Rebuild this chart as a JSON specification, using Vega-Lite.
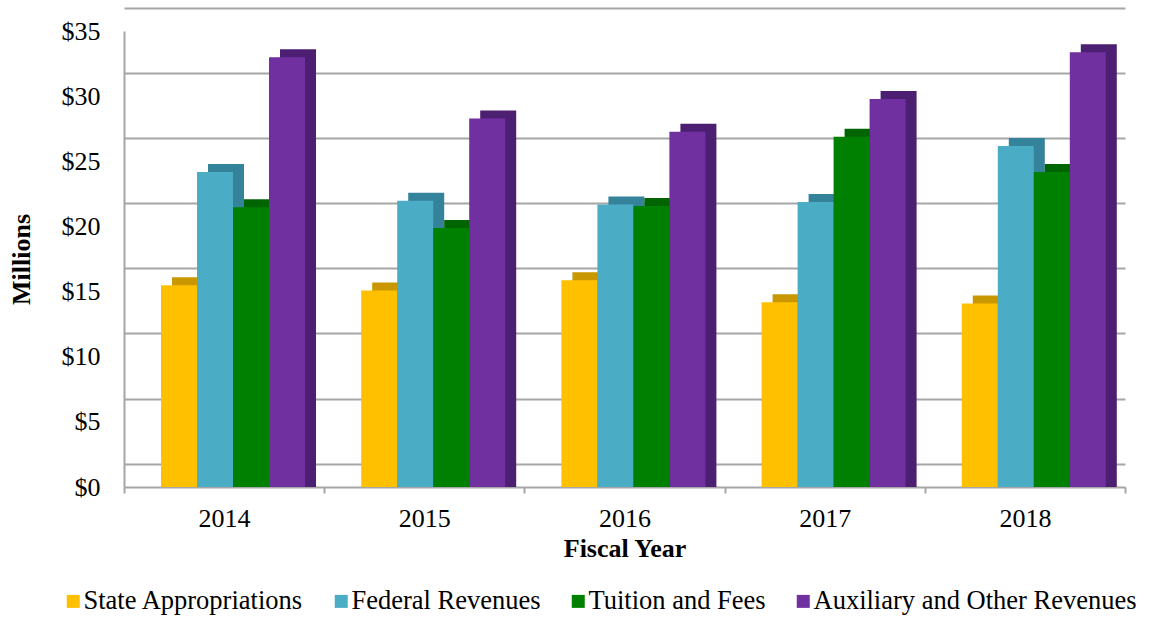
{
  "$schema": "https://vega.github.io/schema/vega-lite/v6.json",
  "width": 1001,
  "height": 456,
  "autosize": {"type": "none"},
  "padding": {"left": 124, "top": 31, "right": 27, "bottom": 133},
  "background": "white",
  "config": {
    "font": "Liberation Serif",
    "view": {"stroke": null},
    "legend": {
      "orient": "none",
      "legendX": -64,
      "legendY": 557,
      "padding": 0,
      "direction": "horizontal",
      "columns": 4,
      "symbolType": "square",
      "symbolSize": 169,
      "symbolStrokeWidth": 0,
      "labelFont": "Liberation Serif",
      "labelFontSize": 26.5,
      "labelColor": "black",
      "labelOffset": -3,
      "columnPadding": 24,
      "labelLimit": 0
    }
  },
  "data": {
    "values": [
      {"year": "2014", "series": "State Appropriations", "value": 14.9},
      {"year": "2014", "series": "Federal Revenues", "value": 23.6},
      {"year": "2014", "series": "Tuition and Fees", "value": 20.9},
      {"year": "2014", "series": "Auxiliary and Other Revenues", "value": 32.4},
      {"year": "2015", "series": "State Appropriations", "value": 14.5},
      {"year": "2015", "series": "Federal Revenues", "value": 21.4},
      {"year": "2015", "series": "Tuition and Fees", "value": 19.3},
      {"year": "2015", "series": "Auxiliary and Other Revenues", "value": 27.7},
      {"year": "2016", "series": "State Appropriations", "value": 15.3},
      {"year": "2016", "series": "Federal Revenues", "value": 21.1},
      {"year": "2016", "series": "Tuition and Fees", "value": 21.0},
      {"year": "2016", "series": "Auxiliary and Other Revenues", "value": 26.7},
      {"year": "2017", "series": "State Appropriations", "value": 13.6},
      {"year": "2017", "series": "Federal Revenues", "value": 21.3},
      {"year": "2017", "series": "Tuition and Fees", "value": 26.3},
      {"year": "2017", "series": "Auxiliary and Other Revenues", "value": 29.2},
      {"year": "2018", "series": "State Appropriations", "value": 13.5},
      {"year": "2018", "series": "Federal Revenues", "value": 25.6},
      {"year": "2018", "series": "Tuition and Fees", "value": 23.6},
      {"year": "2018", "series": "Auxiliary and Other Revenues", "value": 32.8}
    ]
  },
  "encoding": {
    "x": {
      "field": "year",
      "type": "nominal",
      "scale": {"paddingInner": 0, "paddingOuter": 0},
      "axis": {
        "title": "Fiscal Year",
        "labelAngle": 0,
        "labelFontSize": 26,
        "labelColor": "black",
        "labelPadding": 12,
        "tickBand": "extent",
        "ticks": true,
        "tickSize": 6,
        "tickColor": "#A6A6A6",
        "tickWidth": 2,
        "domainColor": "#A6A6A6",
        "domainWidth": 2,
        "titleFontSize": 26,
        "titleFontWeight": "bold",
        "titleColor": "black",
        "titlePadding": 4
      }
    },
    "y": {
      "field": "value",
      "type": "quantitative",
      "stack": null,
      "scale": {"domain": [0, 35], "nice": false},
      "axis": {
        "title": "Millions",
        "values": [0, 5, 10, 15, 20, 25, 30, 35],
        "labelExpr": "'$' + datum.value",
        "labelFontSize": 26,
        "labelColor": "black",
        "labelPadding": 24,
        "ticks": false,
        "tickOffset": -23.3,
        "labelOffset": 23.3,
        "grid": true,
        "gridColor": "#A6A6A6",
        "gridWidth": 2,
        "domainColor": "#A6A6A6",
        "domainWidth": 2,
        "titleFontSize": 26,
        "titleFontWeight": "bold",
        "titleColor": "black",
        "titleX": -103,
        "titleY": 228,
        "titleAlign": "center",
        "titleBaseline": "middle"
      }
    }
  },
  "layer": [
    {
      "mark": {"type": "bar", "yOffset": -15.5, "y2Offset": -15.5},
      "encoding": {
        "xOffset": {
          "field": "series",
          "type": "nominal",
          "sort": ["State Appropriations", "Federal Revenues", "Tuition and Fees", "Auxiliary and Other Revenues"],
          "scale": {"range": [48, 192], "paddingInner": 0, "paddingOuter": 0}
        },
        "fill": {
          "field": "series",
          "type": "nominal",
          "sort": ["State Appropriations", "Federal Revenues", "Tuition and Fees", "Auxiliary and Other Revenues"],
          "scale": {"range": ["#C99700", "#35829B", "#006400", "#4D1F72"]},
          "legend": null
        }
      }
    },
    {
      "mark": {"type": "bar", "yOffset": -7.5, "y2Offset": -7.5},
      "encoding": {
        "xOffset": {
          "field": "series",
          "type": "nominal",
          "sort": ["State Appropriations", "Federal Revenues", "Tuition and Fees", "Auxiliary and Other Revenues"],
          "scale": {"range": [37, 181], "paddingInner": 0, "paddingOuter": 0}
        },
        "color": {
          "field": "series",
          "type": "nominal",
          "scale": {
            "domain": ["State Appropriations", "Federal Revenues", "Tuition and Fees", "Auxiliary and Other Revenues"],
            "range": ["#FFC000", "#4BACC6", "#008000", "#7030A0"]
          },
          "legend": {"title": null}
        }
      }
    }
  ],
  "resolve": {"scale": {"xOffset": "independent"}}
}
